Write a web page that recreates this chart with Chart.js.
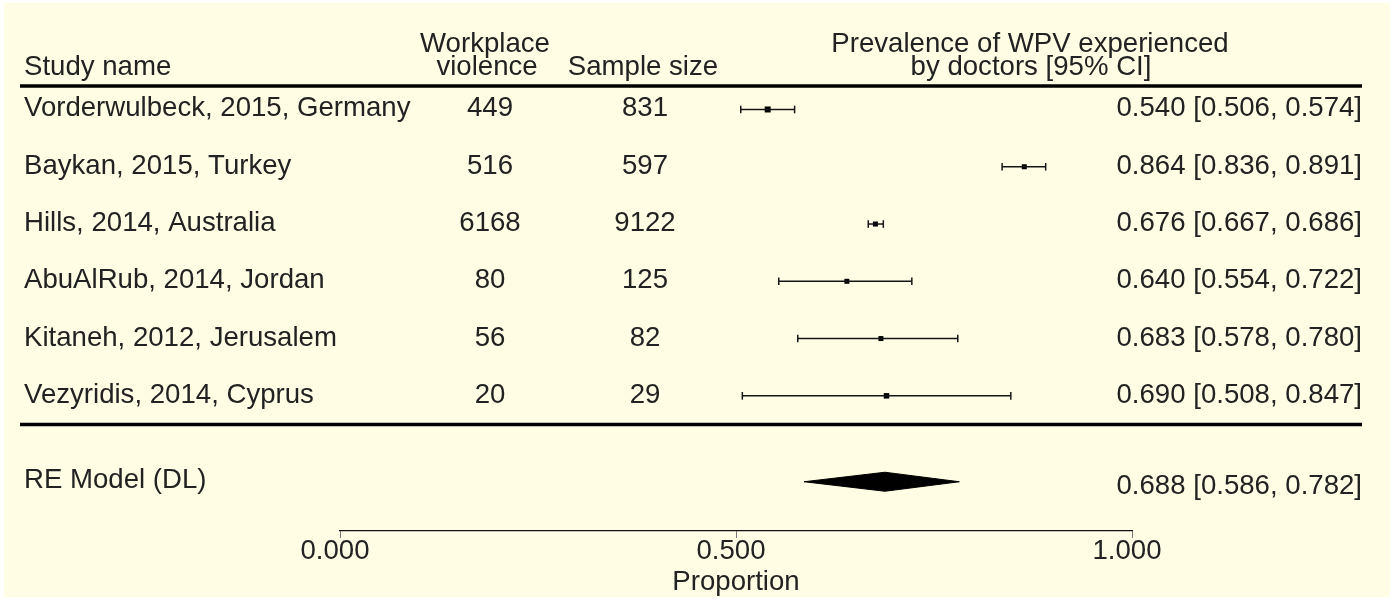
<!DOCTYPE html>
<html>
<head>
<meta charset="utf-8">
<title>Forest plot - WPV experienced by doctors</title>
<script src="https://cdn.jsdelivr.net/npm/chart.js@4.4.0/dist/chart.umd.min.js"></script>
<style>
    html, body { margin: 0; padding: 0; background: #fff; }
    #wrap { width: 1392px; height: 600px; position: relative; }
</style>
</head>
<body>
<div id="wrap"><canvas id="forest"></canvas></div>
<script>
// study data
const studies = [
    'Vorderwulbeck, 2015, Germany',
    'Baykan, 2015, Turkey',
    'Hills, 2014, Australia',
    'AbuAlRub, 2014, Jordan',
    'Kitaneh, 2012, Jerusalem',
    'Vezyridis, 2014, Cyprus'
];
const violence = [449, 516, 6168, 80, 56, 20];
const sampleSize = [831, 597, 9122, 125, 82, 29];
const estimate = [0.540, 0.864, 0.676, 0.640, 0.683, 0.690];
const ciLower = [0.506, 0.836, 0.667, 0.554, 0.578, 0.508];
const ciUpper = [0.574, 0.891, 0.686, 0.722, 0.780, 0.847];

const pooledLabel = 'RE Model (DL)';
const pooledEst = 0.688;
const pooledLower = 0.586;
const pooledUpper = 0.782;

const xTicks = [0, 0.5, 1];

// marker sizes (px) for the squares
const squareSide = [6, 5, 5, 5, 5, 5.5];

const FONT = '"Liberation Sans", Arial, Helvetica, sans-serif';
const FSIZE = 27.6;
const TEXT = '#222';
const pooledRow = studies.length + 1.5;
const sepRow = studies.length + 0.5;
const headRow = 0.59;

function fmt(e, lo, hi) {
    return e.toFixed(3) + ' [' + lo.toFixed(3) + ', ' + hi.toFixed(3) + ']';
}

// one line per confidence interval, caps drawn as vertical point markers
let datasets = studies.map((name, i) => ({
    type: 'scatter',
    showLine: true,
    data: [{x: ciLower[i], y: i + 1}, {x: ciUpper[i], y: i + 1}],
    borderColor: '#151515',
    borderWidth: 1.5,
    pointStyle: 'line',
    rotation: 90,
    pointRadius: 3.8,
    pointBorderColor: '#151515',
    pointBorderWidth: 1.5,
    clip: false
}));

datasets.push({
    type: 'scatter',
    data: estimate.map((e, i) => ({x: e, y: i + 1})),
    pointStyle: 'rect',
    pointRadius: squareSide.map(s => s / (2 * Math.SQRT1_2)),
    pointBackgroundColor: '#000',
    pointBorderWidth: 0,
    clip: false
});

// summary diamond
const dh = 0.166;
datasets.push({
    type: 'scatter',
    showLine: true,
    data: [
        {x: pooledLower, y: pooledRow},
        {x: pooledEst, y: pooledRow - dh},
        {x: pooledUpper, y: pooledRow},
        {x: pooledEst, y: pooledRow + dh},
        {x: pooledLower, y: pooledRow}
    ],
    borderColor: '#000',
    borderWidth: 1,
    backgroundColor: '#000',
    fill: 'shape',
    pointRadius: 0,
    tension: 0,
    clip: false
});

const tablePlugin = {
    id: 'tablePlugin',
    beforeDraw(chart) {
        const ctx = chart.ctx;
        ctx.save();
        ctx.fillStyle = '#fff';
        ctx.fillRect(0, 0, chart.width, chart.height);
        ctx.fillStyle = '#fffde4';
        ctx.fillRect(4, 3, chart.width - 6, chart.height - 6);
        ctx.restore();
    },
    afterDatasetsDraw(chart) {
        const ctx = chart.ctx;
        const y = chart.scales.y;
        ctx.save();
        // rules
        ctx.strokeStyle = '#000';
        ctx.lineWidth = 3.5;
        [headRow, sepRow].forEach(r => {
            const py = y.getPixelForValue(r);
            ctx.beginPath();
            ctx.moveTo(20, py);
            ctx.lineTo(1362, py);
            ctx.stroke();
        });

        ctx.font = FSIZE + 'px ' + FONT;
        ctx.fillStyle = TEXT;
        ctx.textBaseline = 'alphabetic';

        // headers
        ctx.textAlign = 'left';
        ctx.fillText('Study name', 24, 75);
        ctx.textAlign = 'center';
        ctx.fillText('Workplace', 485, 52);
        ctx.fillText('violence', 487, 75);
        ctx.fillText('Sample size', 643, 75);
        ctx.fillText('Prevalence of WPV experienced', 1030, 52);
        ctx.fillText('by doctors [95% CI]', 1031, 75);

        studies.forEach((name, i) => {
            const py = y.getPixelForValue(i + 1) + 7;
            ctx.textAlign = 'left';
            ctx.fillText(name, 24, py);
            ctx.textAlign = 'center';
            ctx.fillText(String(violence[i]), 490, py);
            ctx.fillText(String(sampleSize[i]), 645, py);
            ctx.textAlign = 'right';
            ctx.fillText(fmt(estimate[i], ciLower[i], ciUpper[i]), 1362, py);
        });

        const pp = y.getPixelForValue(pooledRow);
        ctx.textAlign = 'left';
        ctx.fillText(pooledLabel, 24, pp + 6);
        ctx.textAlign = 'right';
        ctx.fillText(fmt(pooledEst, pooledLower, pooledUpper), 1362, pp + 12);
        ctx.restore();
    }
};

new Chart(document.getElementById('forest'), {
    type: 'scatter',
    data: {datasets: datasets},
    options: {
        responsive: true,
        maintainAspectRatio: false,
        animation: false,
        layout: {padding: {left: 340, right: 260, top: 52.2, bottom: 0}},
        plugins: {
            legend: {display: false},
            tooltip: {enabled: false}
        },
        scales: {
            x: {
                type: 'linear',
                position: 'bottom',
                min: 0,
                max: 1,
                afterBuildTicks: s => { s.ticks = xTicks.map(v => ({value: v})); },
                afterFit: s => { s.height = 69; },
                ticks: {
                    callback: v => Number(v).toFixed(3),
                    font: {family: FONT, size: FSIZE},
                    color: TEXT,
                    padding: -3,
                    labelOffset: -5,
                    maxRotation: 0
                },
                grid: {
                    drawOnChartArea: false,
                    drawTicks: true,
                    tickLength: 7,
                    color: '#777',
                    lineWidth: 1
                },
                border: {color: '#111', width: 1.2},
                title: {
                    display: true,
                    text: 'Proportion',
                    font: {family: FONT, size: FSIZE},
                    color: TEXT,
                    padding: {top: 0, bottom: 1}
                }
            },
            y: {
                type: 'linear',
                display: false,
                reverse: true,
                min: 0,
                max: 8.36
            }
        }
    },
    plugins: [tablePlugin]
});
</script>
</body>
</html>
